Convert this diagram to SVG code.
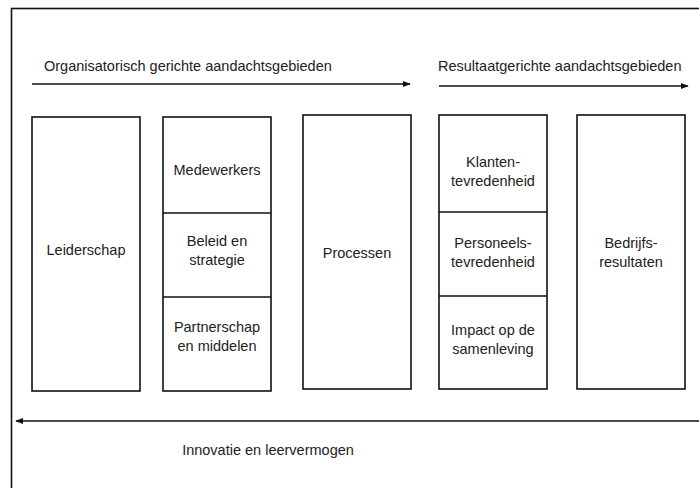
<svg xmlns="http://www.w3.org/2000/svg" width="699" height="488" viewBox="0 0 699 488">
  <style>
    .box { fill: #fff; stroke: #111; stroke-width: 1.6; }
    .div { stroke: #111; stroke-width: 1.6; }
    .lbl { font-family: "Liberation Sans", Arial, sans-serif; font-size: 14.5px; fill: #222; text-anchor: middle; }
    .hdr { font-family: "Liberation Sans", Arial, sans-serif; font-size: 14.5px; fill: #222; }
    .arrow { stroke: #111; stroke-width: 1.6; fill: none; }
  </style>
  <defs>
    <marker id="head" viewBox="0 0 10 10" refX="9" refY="5" markerWidth="8" markerHeight="6" markerUnits="userSpaceOnUse" orient="auto" preserveAspectRatio="none">
      <path d="M0,0 L10,5 L0,10 Z" fill="#111"/>
    </marker>
  </defs>
  <rect width="699" height="488" fill="#fff"/>

  <!-- outer frame (runs off the right and bottom edges) -->
  <rect x="11.5" y="8.5" width="700" height="500" fill="none" stroke="#111" stroke-width="1.6"/>

  <!-- section headings -->
  <text class="hdr" x="44" y="71">Organisatorisch gerichte aandachtsgebieden</text>
  <text class="hdr" x="438" y="71">Resultaatgerichte aandachtsgebieden</text>
  <text class="lbl" x="268" y="455">Innovatie en leervermogen</text>

  <g id="connectors">
    <line class="arrow" x1="32" y1="84" x2="410" y2="84" marker-end="url(#head)"/>
    <line class="arrow" x1="439" y1="86" x2="688" y2="86" marker-end="url(#head)"/>
    <line class="arrow" x1="699" y1="421" x2="16" y2="421" marker-end="url(#head)"/>
  </g>

  <g id="leiderschap">
    <rect class="box" x="32" y="117" width="108" height="274"/>
    <text class="lbl" x="86" y="255">Leiderschap</text>
  </g>

  <g id="medewerkers-kolom">
    <rect class="box" x="163" y="117" width="108" height="274"/>
    <line class="div" x1="163" y1="213" x2="271" y2="213"/>
    <line class="div" x1="163" y1="297" x2="271" y2="297"/>
    <text class="lbl" x="217" y="175">Medewerkers</text>
    <text class="lbl" x="217" y="246">Beleid en</text>
    <text class="lbl" x="217" y="265">strategie</text>
    <text class="lbl" x="217" y="332">Partnerschap</text>
    <text class="lbl" x="217" y="351">en middelen</text>
  </g>

  <g id="processen">
    <rect class="box" x="303" y="115" width="108" height="274"/>
    <text class="lbl" x="357" y="258">Processen</text>
  </g>

  <g id="tevredenheid-kolom">
    <rect class="box" x="439" y="115" width="108" height="274"/>
    <line class="div" x1="439" y1="212" x2="547" y2="212"/>
    <line class="div" x1="439" y1="296" x2="547" y2="296"/>
    <text class="lbl" x="493" y="167">Klanten-</text>
    <text class="lbl" x="493" y="186">tevredenheid</text>
    <text class="lbl" x="493" y="248">Personeels-</text>
    <text class="lbl" x="493" y="267">tevredenheid</text>
    <text class="lbl" x="493" y="335">Impact op de</text>
    <text class="lbl" x="493" y="354">samenleving</text>
  </g>

  <g id="bedrijfsresultaten">
    <rect class="box" x="577" y="115" width="108" height="274"/>
    <text class="lbl" x="631" y="248">Bedrijfs-</text>
    <text class="lbl" x="631" y="267">resultaten</text>
  </g>
</svg>
